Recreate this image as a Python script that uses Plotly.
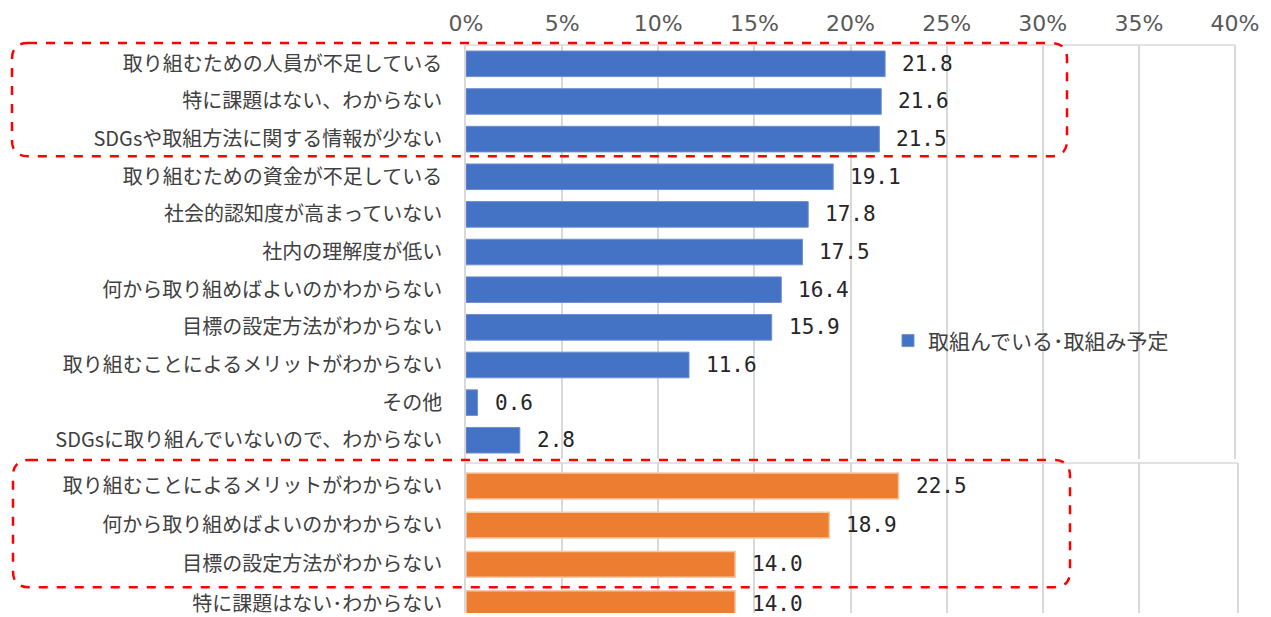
import plotly.graph_objects as go

# ---- data ----
blue_categories = [
    "取り組むための人員が不足している",
    "特に課題はない、わからない",
    "SDGsや取組方法に関する情報が少ない",
    "取り組むための資金が不足している",
    "社会的認知度が高まっていない",
    "社内の理解度が低い",
    "何から取り組めばよいのかわからない",
    "目標の設定方法がわからない",
    "取り組むことによるメリットがわからない",
    "その他",
    "SDGsに取り組んでいないので、わからない",
]
blue_values = [21.8, 21.6, 21.5, 19.1, 17.8, 17.5, 16.4, 15.9, 11.6, 0.6, 2.8]

orange_categories = [
    "取り組むことによるメリットがわからない",
    "何から取り組めばよいのかわからない",
    "目標の設定方法がわからない",
    "特に課題はない･わからない",
]
orange_values = [22.5, 18.9, 14.0, 14.0]

x_tickvals = [0, 5, 10, 15, 20, 25, 30, 35, 40]
x_ticktext = ["0%", "5%", "10%", "15%", "20%", "25%", "30%", "35%", "40%"]
legend_name = "取組んでいる･取組み予定"

# ---- styling ----
BLUE = "#4472C4"
ORANGE = "#ED7D31"
GRID = "#D9D9D9"
LABEL_FONT = dict(family="Noto Sans CJK JP", size=20, color="#404040")
VALUE_FONT = dict(family="DejaVu Sans Mono", size=21, color="#262626")

W, H = 1271, 617
L, R, T, B = 466, 1235, 45, 617


def px(xp):
    return (xp - L) / (R - L)


def py(yp):
    return (B - yp) / (B - T)


fig = go.Figure()
fig.add_trace(go.Bar(
    x=blue_values, y=blue_categories, orientation="h",
    marker=dict(color=BLUE, line=dict(color="#6F8FD0", width=1)),
    width=0.68, name=legend_name, xaxis="x", yaxis="y",
))
fig.add_trace(go.Bar(
    x=orange_values, y=orange_categories, orientation="h",
    marker=dict(color=ORANGE, line=dict(color="#F6C9A6", width=1.5)),
    width=0.66, name="", showlegend=False, xaxis="x2", yaxis="y2",
))

annotations = []
for c, v in zip(blue_categories, blue_values):
    annotations.append(dict(x=v, y=c, xref="x", yref="y", text=f"{v:.1f}",
                            showarrow=False, xanchor="left", xshift=15,
                            font=VALUE_FONT))
for c, v in zip(orange_categories, orange_values):
    annotations.append(dict(x=v, y=c, xref="x2", yref="y2", text=f"{v:.1f}",
                            showarrow=False, xanchor="left", xshift=15,
                            font=VALUE_FONT))


def rounded_rect(x0, y0, x1, y1, r):
    rx = r / (R - L)
    ry = r / (B - T)
    X0, X1 = px(x0), px(x1)
    Y0, Y1 = py(y0), py(y1)
    return (f"M {X0 + rx},{Y0} L {X1 - rx},{Y0} Q {X1},{Y0} {X1},{Y0 - ry} "
            f"L {X1},{Y1 + ry} Q {X1},{Y1} {X1 - rx},{Y1} "
            f"L {X0 + rx},{Y1} Q {X0},{Y1} {X0},{Y1 + ry} "
            f"L {X0},{Y0 - ry} Q {X0},{Y0} {X0 + rx},{Y0} Z")


shapes = [
    dict(type="line", xref="paper", yref="paper", x0=0, x1=1, y0=1, y1=1,
         line=dict(color=GRID, width=1.5)),
    dict(type="line", xref="paper", yref="paper", x0=1, x1=1, y0=py(462), y1=1,
         line=dict(color=GRID, width=2)),
    dict(type="line", xref="paper", yref="paper", x0=0, x1=px(1238), y0=py(466), y1=py(466),
         line=dict(color=GRID, width=1.5)),
    dict(type="line", xref="paper", yref="paper", x0=px(1238), x1=px(1238), y0=0, y1=py(466),
         line=dict(color=GRID, width=2)),
    dict(type="path", xref="paper", yref="paper", path=rounded_rect(12, 43, 1067, 157, 16),
         line=dict(color="#FF0000", width=2.5, dash="dash")),
    dict(type="path", xref="paper", yref="paper", path=rounded_rect(13, 463, 1070, 591, 16),
         line=dict(color="#FF0000", width=2.5, dash="dash")),
]

top_domain = [py(462), 1]
bot_domain = [0, py(465)]

fig.update_layout(
    width=W, height=H,
    margin=dict(l=L, r=W - R, t=T, b=H - B, pad=0),
    paper_bgcolor="white", plot_bgcolor="white",
    showlegend=True,
    legend=dict(x=px(888), y=py(343), xanchor="left", yanchor="middle",
                bgcolor="rgba(0,0,0,0)",
                font=dict(family="Noto Sans CJK JP", size=21, color="#404040"),
                itemwidth=30),
    xaxis=dict(domain=[0, 1], anchor="y", side="top", range=[0, 40],
               tickvals=x_tickvals, ticktext=x_ticktext,
               tickfont=dict(family="DejaVu Sans", size=22, color="#595959"),
               showgrid=True, gridcolor=GRID, gridwidth=1.5, zeroline=False,
               showline=False, ticks="", ticklabelstandoff=9, fixedrange=True),
    xaxis2=dict(domain=[0, 1], anchor="y2", range=[0, 40], matches="x",
                tickvals=x_tickvals, showticklabels=False,
                showgrid=True, gridcolor=GRID, gridwidth=1.5, zeroline=False,
                showline=False, ticks=""),
    yaxis=dict(domain=top_domain, anchor="x", type="category",
               categoryorder="array", categoryarray=blue_categories,
               range=[10.5, -0.5], tickfont=LABEL_FONT,
               showline=True, linecolor=GRID, linewidth=1.5,
               ticks="", ticklabelstandoff=18, showgrid=False),
    yaxis2=dict(domain=bot_domain, anchor="x2", type="category",
                categoryorder="array", categoryarray=orange_categories,
                range=[3.24, -0.61], tickfont=LABEL_FONT,
                showline=True, linecolor=GRID, linewidth=1.5,
                ticks="", ticklabelstandoff=18, showgrid=False),
    annotations=annotations,
    shapes=shapes,
)

fig.write_html("out.html")
